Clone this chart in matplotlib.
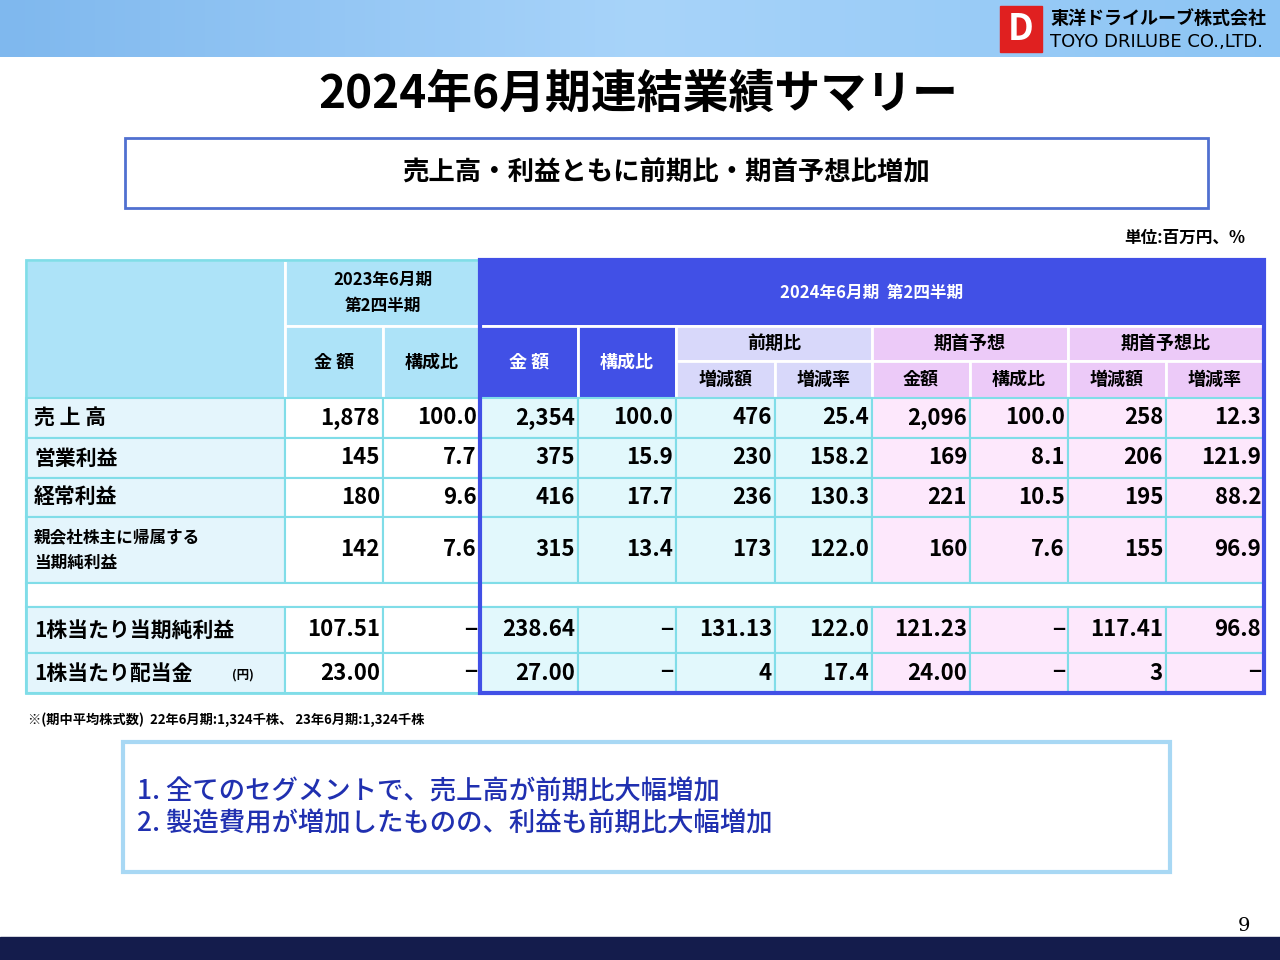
import matplotlib
matplotlib.use("Agg")
import matplotlib.pyplot as plt
from matplotlib.patches import Rectangle
from matplotlib.colors import LinearSegmentedColormap
import numpy as np

plt.rcParams['font.family'] = ['Noto Sans CJK JP', 'DejaVu Sans']

title = "2024年6月期連結業績サマリー"
subtitle = "売上高・利益ともに前期比・期首予想比増加"
unit = "単位:百万円、%"
row_labels = ["売 上 高", "営業利益", "経常利益", "親会社株主に帰属する\n当期純利益", "", "1株当たり当期純利益", "1株当たり配当金"]
col_fmt = ["金額", "構成比", "金額", "構成比", "増減額", "増減率", "金額", "構成比", "増減額", "増減率"]
data = [
    ["1,878", "100.0", "2,354", "100.0", "476", "25.4", "2,096", "100.0", "258", "12.3"],
    ["145", "7.7", "375", "15.9", "230", "158.2", "169", "8.1", "206", "121.9"],
    ["180", "9.6", "416", "17.7", "236", "130.3", "221", "10.5", "195", "88.2"],
    ["142", "7.6", "315", "13.4", "173", "122.0", "160", "7.6", "155", "96.9"],
    [""] * 10,
    ["107.51", "−", "238.64", "−", "131.13", "122.0", "121.23", "−", "117.41", "96.8"],
    ["23.00", "−", "27.00", "−", "4", "17.4", "24.00", "−", "3", "−"],
]
footnote = "※(期中平均株式数)  22年6月期:1,324千株、 23年6月期:1,324千株"
points = ["1. 全てのセグメントで、売上高が前期比大幅増加", "2. 製造費用が増加したものの、利益も前期比大幅増加"]

fig = plt.figure(figsize=(12.8, 9.6), dpi=100)
ax = fig.add_axes([0, 0, 1, 1])
ax.set_xlim(0, 1280); ax.set_ylim(960, 0); ax.axis('off')

grad = np.linspace(0, 1, 256).reshape(1, -1)
cm = LinearSegmentedColormap.from_list("b", ["#7fb8ee", "#a8d4fa", "#8cc4f4"])
ax.imshow(grad, extent=[0, 1280, 57, 0], cmap=cm, aspect='auto', zorder=0)
ax.add_patch(Rectangle((1000, 6), 42, 46, color="#e02020", zorder=2))
ax.text(1021, 30, "D", color="white", fontsize=26, fontweight='bold', ha='center', va='center', zorder=3)
ax.text(1050, 18, "東洋ドライルーブ株式会社", fontsize=13, fontweight='bold', va='center')
ax.text(1050, 42, "TOYO DRILUBE CO.,LTD.", fontsize=13, va='center', family=['Liberation Sans Narrow', 'DejaVu Sans'])
ax.add_patch(Rectangle((0, 937), 1280, 23, color="#141c4c"))
ax.text(1244, 926, "9", fontsize=14, family='DejaVu Serif', ha='center', va='center')

ax.text(638, 95, title, fontsize=33, fontweight='bold', ha='center', va='center')
ax.add_patch(Rectangle((125, 138), 1083, 70, fill=False, ec="#5070d0", lw=2))
ax.text(666, 173, subtitle, fontsize=19, fontweight='bold', ha='center', va='center')
ax.text(1245, 238, unit, fontsize=12, fontweight='bold', ha='right', va='center')

xs = [26, 285, 383, 480, 578, 676, 775, 872, 970, 1068, 1166, 1264]
row_y = [398, 438, 478, 517, 583, 607, 653, 693]
line = "#80dde8"

def cell(x0, x1, y0, y1, fc, txt="", color="black", fs=15):
    ax.add_patch(Rectangle((x0, y0), x1 - x0, y1 - y0, fc=fc, ec="white", lw=2, zorder=1))
    if txt:
        ax.text((x0 + x1) / 2, (y0 + y1) / 2, txt, fontsize=fs, fontweight='bold', ha='center',
                va='center', color=color, zorder=3, linespacing=1.6)

lb = "#ade3f8"; blue = "#4150e6"; lav = "#d8d8fa"; pink = "#eccaf8"
cell(26, 285, 260, 398, lb)
cell(285, 480, 260, 326, lb, "2023年6月期\n第2四半期", fs=12)
cell(480, 1264, 260, 326, blue, "2024年6月期  第2四半期", color="white", fs=12)
cell(285, 383, 326, 398, lb, "金 額", fs=13)
cell(383, 480, 326, 398, lb, "構成比", fs=13)
cell(480, 578, 326, 398, blue, "金 額", color="white", fs=13)
cell(578, 676, 326, 398, blue, "構成比", color="white", fs=13)
for (a, b, t, c) in [(676, 872, "前期比", lav), (872, 1068, "期首予想", pink), (1068, 1264, "期首予想比", pink)]:
    cell(a, b, 326, 361, c, t, fs=13)
for i in range(4, 10):
    c = lav if i < 6 else pink
    cell(xs[i + 1], xs[i + 2], 361, 398, c, col_fmt[i], fs=13)

col_bg = ["#ffffff", "#ffffff", "#e2f8fc", "#e2f8fc", "#e2f8fc", "#e2f8fc", "#fde8fc", "#fde8fc", "#fde8fc", "#fde8fc"]
for r, lab in enumerate(row_labels):
    y0, y1 = row_y[r], row_y[r + 1]
    if lab == "":
        ax.add_patch(Rectangle((26, y0), 1238, y1 - y0, fc="white", ec=line, lw=1.5, zorder=1))
        continue
    fs = 12 if "\n" in lab else 15
    ax.add_patch(Rectangle((26, y0), 259, y1 - y0, fc="#e4f5fc", ec=line, lw=1.5, zorder=1))
    ax.text(34, (y0 + y1) / 2, lab, fontsize=fs, fontweight='bold', va='center', linespacing=1.6, zorder=3)
    if r == 6:
        ax.text(232, (y0 + y1) / 2 + 2, "(円)", fontsize=9, fontweight='bold', va='center', zorder=3)
    for j in range(10):
        ax.add_patch(Rectangle((xs[j + 1], y0), xs[j + 2] - xs[j + 1], y1 - y0, fc=col_bg[j], ec=line, lw=1.5, zorder=1))
        ax.text(xs[j + 2] - 3, (y0 + y1) / 2, data[r][j], fontsize=16, fontweight='bold', ha='right', va='center', zorder=3)
ax.add_patch(Rectangle((26, 260), 1238, 433, fill=False, ec=line, lw=2, zorder=2))
ax.add_patch(Rectangle((480, 260), 784, 433, fill=False, ec=blue, lw=3, zorder=4))

ax.text(28, 720, footnote, fontsize=9.5, fontweight='bold', va='center')
ax.add_patch(Rectangle((123, 742), 1047, 130, fc="white", ec="#a8d8f4", lw=3))
for i, p in enumerate(points):
    ax.text(137, 792 + i * 32, p, fontsize=19, fontweight='medium', color="#2030b0", va='center')

fig.savefig("out.png", dpi=100)
